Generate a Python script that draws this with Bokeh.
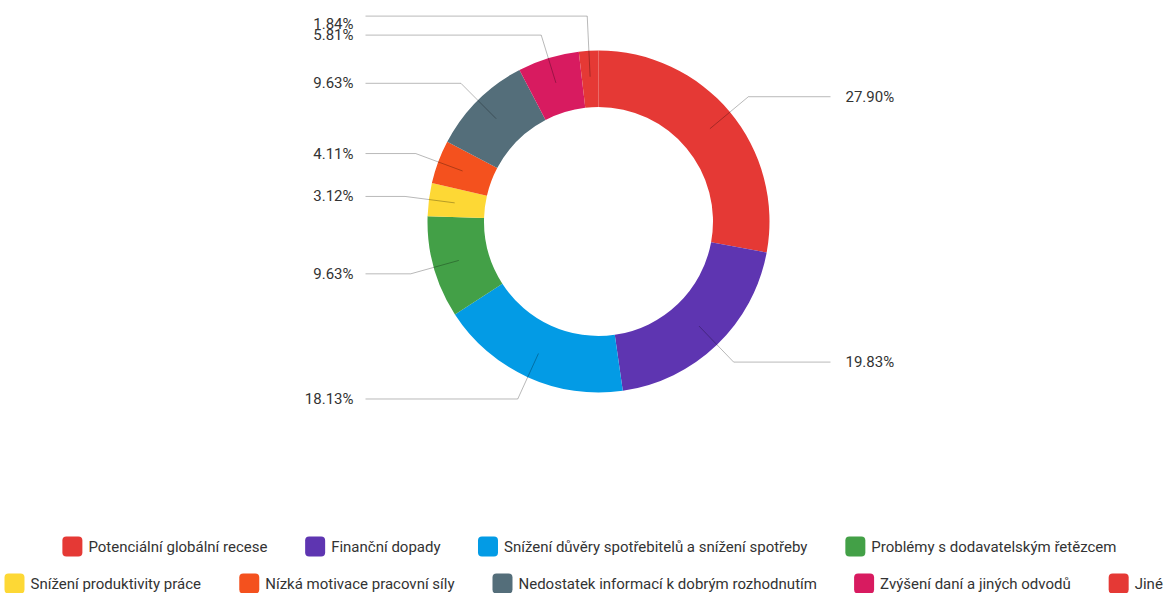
import math
from bokeh.plotting import figure
from bokeh.models import Range1d, ColumnDataSource
from bokeh.core.properties import value
from bokeh.embed import file_html
from bokeh.resources import INLINE

# ---- data ----
categories = [
    "Potenciální globální recese",
    "Finanční dopady",
    "Snížení důvěry spotřebitelů a snížení spotřeby",
    "Problémy s dodavatelským řetězcem",
    "Snížení produktivity práce",
    "Nízká motivace pracovní síly",
    "Nedostatek informací k dobrým rozhodnutím",
    "Zvýšení daní a jiných odvodů",
    "Jiné",
]
shares = [27.90, 19.83, 18.13, 9.63, 3.12, 4.11, 9.63, 5.81, 1.84]
colors = ["#E53935", "#5E35B1", "#039BE5", "#43A047", "#FDD835",
          "#F4511E", "#546E7A", "#D81B60", "#E53935"]
legend_rows = [4, 5]

# ---- layout ----
W, H = 1165, 593
FONT = "Roboto"
FS = 15
TXT = "#333333"

def Y(yref):
    return H - yref

cx, cy = 598, Y(221)
r_out, r_in = 171, 114.5
r_anchor, r_elbow = 145, 195
gap = 19

# approximate Roboto advance widths (em)
adv = {' ': .248, 'a': .532, 'b': .548, 'c': .511, 'd': .550, 'e': .517, 'f': .338,
       'g': .548, 'h': .538, 'i': .237, 'j': .233, 'k': .495, 'l': .237, 'm': .855,
       'n': .539, 'o': .557, 'p': .548, 'r': .331, 's': .503, 't': .320, 'u': .538,
       'v': .473, 'y': .462, 'z': .495, 'F': .533, 'J': .538, 'N': .696, 'P': .631,
       'S': .594, 'Z': .598}
base = {'á': 'a', 'í': 'i', 'é': 'e', 'ě': 'e', 'č': 'c', 'ř': 'r', 'ž': 'z', 'š': 's',
        'ů': 'u', 'ý': 'y'}

def text_w(s):
    return sum(adv.get(base.get(ch, ch), .52) for ch in s) * FS * 1.02

p = figure(width=W, height=H, output_backend="svg", toolbar_location=None,
           x_range=Range1d(0, W), y_range=Range1d(0, H), min_border=0)
p.axis.visible = False
p.grid.visible = False
p.outline_line_color = None
p.background_fill_color = "white"

total = sum(shares)
starts, ends, mids = [], [], []
acc = 0.0
for v in shares:
    a0 = acc / total * 2 * math.pi
    acc += v
    a1 = acc / total * 2 * math.pi
    starts.append(math.pi / 2 - a0)
    ends.append(math.pi / 2 - a1)
    mids.append((a0 + a1) / 2)

src = ColumnDataSource(dict(start=starts, end=ends, color=colors))
p.annular_wedge(x=cx, y=cy, inner_radius=r_in, outer_radius=r_out,
                start_angle="start", end_angle="end", direction="clock",
                fill_color="color", line_color=None, source=src)

# leader lines and labels
items = []
for i, m in enumerate(mids):
    ax = cx + r_anchor * math.sin(m)
    ay = cy + r_anchor * math.cos(m)
    ex = cx + r_elbow * math.sin(m)
    ey = cy + r_elbow * math.cos(m)
    items.append(dict(i=i, ax=ax, ay=ay, ex=ex, ey=ey, right=math.sin(m) >= 0))

for side in (True, False):
    grp = sorted([it for it in items if it["right"] == side], key=lambda d: d["ey"])
    for k in range(1, len(grp)):
        if grp[k]["ey"] - grp[k - 1]["ey"] < gap:
            grp[k]["ey"] = grp[k - 1]["ey"] + gap

xs, ys = [], []
lx, ly, lt, la = [], [], [], []
for it in items:
    endx = cx + 232 if it["right"] else cx - 233
    xs.append([it["ax"], it["ex"], endx])
    ys.append([it["ay"], it["ey"], it["ey"]])
    lx.append(cx + 247 if it["right"] else cx - 245)
    ly.append(min(it["ey"], Y(23)))
    lt.append(f"{shares[it['i']]:.2f}%")
    la.append("left" if it["right"] else "right")

p.multi_line(xs=xs, ys=ys, line_color="black", line_alpha=0.28, line_width=1)
p.text(x=lx, y=ly, text=lt, text_align=la, text_baseline="middle",
       text_font=value(FONT), text_font_size=f"{FS}px", text_color=TXT)

# legend
icon = 20
pad = 6
spacing = 38
row_y = [Y(546), Y(583)]
mid_x = 589
idx = 0
for r, n in enumerate(legend_rows):
    row = list(range(idx, idx + n))
    idx += n
    widths = [icon + pad + text_w(categories[j]) for j in row]
    total_w = sum(widths) + spacing * (n - 1)
    x = mid_x - total_w / 2
    x = max(4, min(x, W - 4 - total_w))
    ix, tx = [], []
    for j, w in zip(row, widths):
        ix.append(x + icon / 2)
        tx.append(x + icon + pad)
        x += w + spacing
    csrc = ColumnDataSource(dict(x=ix, y=[row_y[r]] * n, c=[colors[j] for j in row]))
    try:
        p.rect(x="x", y="y", width=icon, height=icon, fill_color="c", line_color=None,
               border_radius=4, source=csrc)
    except Exception:
        p.rect(x="x", y="y", width=icon, height=icon, fill_color="c", line_color=None,
               source=csrc)
    p.text(x=tx, y=[row_y[r]] * n, text=[categories[j] for j in row],
           text_align="left", text_baseline="middle", text_font=value(FONT),
           text_font_size=f"{FS}px", text_color=TXT)

open("out.html", "w").write(file_html(p, INLINE))
